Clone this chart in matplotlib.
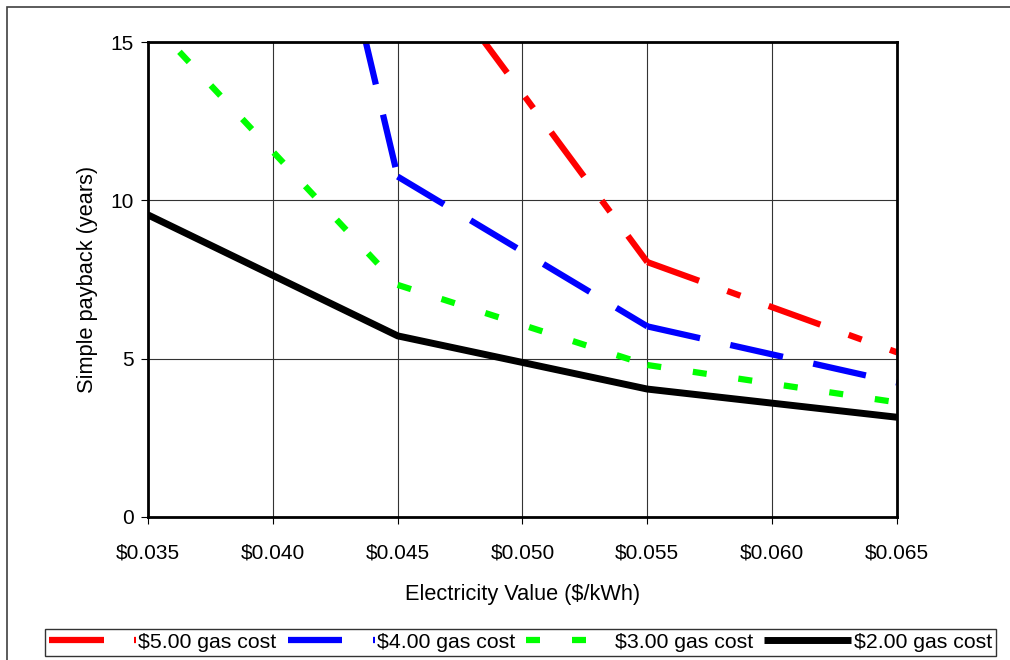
import math
import matplotlib
matplotlib.use("Agg")
import matplotlib.pyplot as plt
from matplotlib.lines import Line2D
from matplotlib.patches import Rectangle
from matplotlib.ticker import FuncFormatter

plt.rcParams["font.family"] = ["Liberation Sans", "DejaVu Sans"]
plt.rcParams["font.size"] = 15
plt.rcParams["lines.scale_dashes"] = False

# Electricity value ($/kWh) at which payback was evaluated
elec_value = [0.035, 0.045, 0.055, 0.065]

# Simple payback (years) for each gas cost scenario
payback_gas_5 = [None, 18.7, 8.05, 5.2]
payback_gas_4 = [44.05, 10.75, 6.02, 4.25]
payback_gas_3 = [15.75, 7.33, 4.8, 3.62]
payback_gas_2 = [9.54, 5.72, 4.04, 3.15]

series_labels = ["$5.00 gas cost", "$4.00 gas cost", "$3.00 gas cost", "$2.00 gas cost"]

x_ticks = [0.035, 0.040, 0.045, 0.050, 0.055, 0.060, 0.065]
y_ticks = [0, 5, 10, 15]

W, H = 1010, 660
DPI = 100
fig = plt.figure(figsize=(W / DPI, H / DPI), dpi=DPI)
ax = fig.add_axes([148 / W, 1 - 517 / H, (897 - 148) / W, (517 - 42) / H])
ax.set_xlim(0.035, 0.065)
ax.set_ylim(0, 15)

PX = 72.0 / DPI  # points per pixel

# dash patterns (on/off lengths in pixels), pattern restarts at every data point
styles = [
    dict(color="#FF0000", lw=4.5, dash=[55, 30, 14, 30]),
    dict(color="#0000FF", lw=4.5, dash=[54, 31]),
    dict(color="#00FF00", lw=4.5, dash=[14, 32]),
    dict(color="#000000", lw=5.0, dash=None),
]
series = [payback_gas_5, payback_gas_4, payback_gas_3, payback_gas_2]


def draw_series(xs, ys, color, lw, dash):
    pts = [(x, y) for x, y in zip(xs, ys) if y is not None]
    if dash is None:
        ax.plot([p[0] for p in pts], [p[1] for p in pts], color=color, lw=lw,
                solid_capstyle="butt", solid_joinstyle="miter", zorder=3)
        return
    pattern = [d * PX for d in dash]
    period = sum(pattern)
    top = ax.get_ylim()[1]
    for (x0, y0), (x1, y1) in zip(pts[:-1], pts[1:]):
        t = 0.0
        if y0 > top:
            t = (y0 - top) / (y0 - y1)
        d0 = ax.transData.transform((x0, y0))
        d1 = ax.transData.transform((x1, y1))
        seg_len = math.hypot(*(d1 - d0)) * PX
        offset = (t * seg_len) % period
        xv, yv = x0 + t * (x1 - x0), y0 + t * (y1 - y0)
        ax.plot([xv, x1], [yv, y1], color=color, lw=lw,
                linestyle=(offset, pattern), dash_capstyle="butt",
                solid_capstyle="butt", zorder=3)


handles = []
for ys, st, lab in zip(series, styles, series_labels):
    draw_series(elec_value, ys, st["color"], st["lw"], st["dash"])
    ls = "-" if st["dash"] is None else (0, [d * PX for d in st["dash"]])
    handles.append(Line2D([], [], color=st["color"], lw=st["lw"], linestyle=ls,
                          dash_capstyle="butt", solid_capstyle="butt", label=lab))

ax.set_xticks(x_ticks)
ax.set_yticks(y_ticks)
ax.xaxis.set_major_formatter(FuncFormatter(lambda v, p: f"${v:.3f}"))
ax.grid(True, color="#333333", lw=0.8, zorder=1)
ax.set_axisbelow(True)

for s in ax.spines.values():
    s.set_linewidth(2.0)
    s.set_color("black")
    s.set_zorder(4)

ax.tick_params(axis="both", direction="out", length=5, width=0.8, color="black",
               labelsize=15)
ax.tick_params(axis="x", pad=14)
ax.tick_params(axis="y", pad=5)

ax.set_ylabel("Simple payback (years)", fontsize=15.7)
ax.yaxis.set_label_coords(-0.067, 0.5)
ax.set_xlabel("Electricity Value ($/kWh)", fontsize=15.7)
ax.xaxis.set_label_coords(0.5, -0.141)

# Legend across the bottom
leg = fig.legend(handles=handles, loc="lower left", ncol=4, mode="expand",
                 bbox_to_anchor=(45 / W, 1 - 656 / H, (996 - 45) / W, (656 - 621) / H),
                 handlelength=4.1, handletextpad=0.1, columnspacing=0.4,
                 borderpad=0.2, borderaxespad=0, fontsize=15.3, frameon=True,
                 fancybox=False, edgecolor="black")
leg.get_frame().set_linewidth(1.0)

# Outer chart border
fig.patches.append(Rectangle((7 / W, -0.05), 1.1, 1 - 7 / H + 0.05,
                             transform=fig.transFigure, fill=False,
                             edgecolor="#404040", lw=1.2))

fig.savefig("out.png", dpi=DPI)
